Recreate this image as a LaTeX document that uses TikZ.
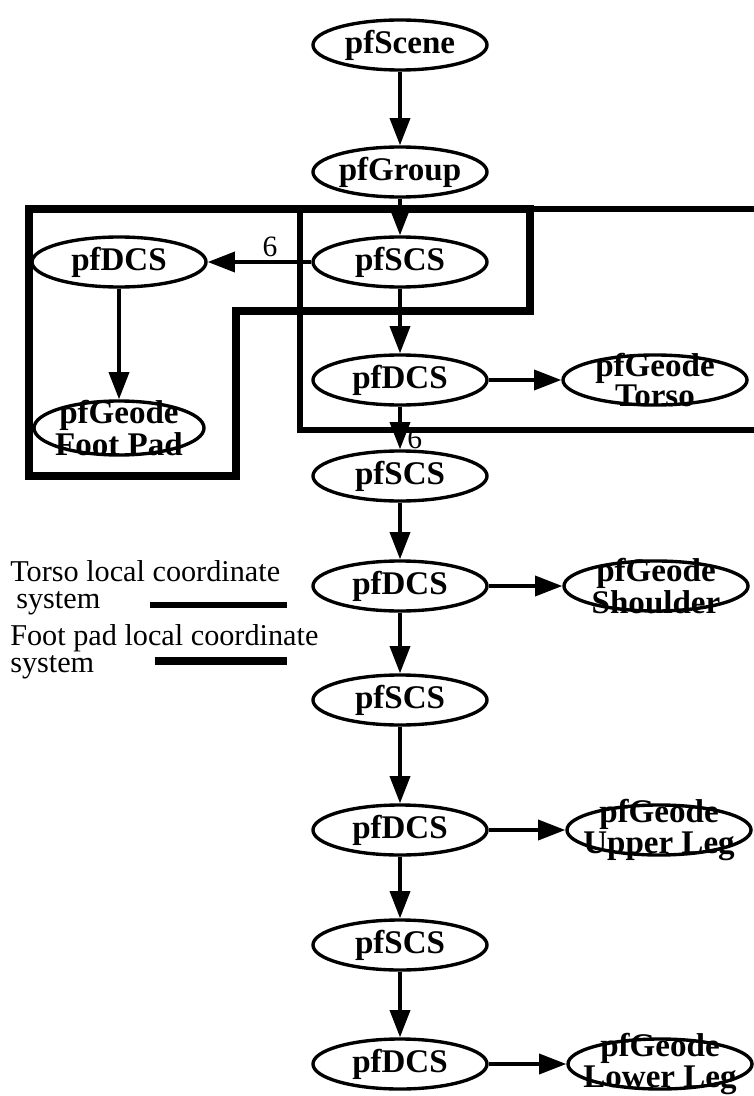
\documentclass[tikz,border=0pt]{standalone}
\usepackage{fontspec}
\setmainfont{Liberation Serif}
\usetikzlibrary{shapes.geometric, arrows.meta, positioning}
\tikzset{
    % Ellipse styles
    pfnode/.style={
        ellipse,
        draw=black,
        line width=2.4pt,
        minimum width=4.35cm,
        minimum height=1.25cm,
        inner sep=0pt,
        font=\bfseries\fontsize{23.5}{23.5}\selectfont
    },
    geode/.style={
        ellipse,
        draw=black,
        line width=2.4pt,
        minimum width=4.6cm,
        minimum height=1.25cm,
        inner sep=0pt
    },
    geotext/.style={
        align=center,
        inner sep=0pt,
        font=\bfseries\fontsize{23.5}{17}\selectfont
    },
    % Arrow styles
    arrow/.style={
        -{Triangle[length=0.68cm, width=0.5cm]},
        line width=2.6pt,
        draw=black
    },
    countlabel/.style={
        inner sep=0pt,
        font=\fontsize{21}{21}\selectfont
    },
    legendtext/.style={
        align=left,
        anchor=north west,
        inner sep=0pt,
        font=\fontsize{21.5}{19.5}\selectfont
    },
    % Coordinate system outlines
    torsoline/.style={
        line width=3.8pt,
        draw=black
    },
    footline/.style={
        line width=5.2pt,
        draw=black
    }
}

\begin{document}
\begin{tikzpicture}[x=0.025cm, y=-0.025cm]
    \fill[white] (0,0) rectangle (754,1096);
    \useasboundingbox (0,0) rectangle (754,1096);

    \node[pfnode] (scene) at (400,45) {pfScene};
    \node[pfnode] (group) at (400,172) {pfGroup};
    \node[pfnode] (scs1) at (400,262) {pfSCS};
    \node[pfnode] (dcsfoot) at (119,262) {pfDCS};
    \node[geode, minimum width=4.25cm, minimum height=1.35cm,
          label={[geotext]center:pfGeode\\Foot Pad}] (geofoot) at (119,428) {};
    \node[pfnode] (dcs1) at (400,380) {pfDCS};
    \node[geode, label={[geotext]center:pfGeode\\Torso}] (geotorso) at (655,380) {};
    \node[pfnode] (scs2) at (400,476) {pfSCS};
    \node[pfnode] (dcs2) at (400,586) {pfDCS};
    \node[geode, label={[geotext]center:pfGeode\\Shoulder}] (geoshoulder) at (656,586) {};
    \node[pfnode] (scs3) at (400,700) {pfSCS};
    \node[pfnode] (dcs3) at (400,830) {pfDCS};
    \node[geode, label={[geotext]center:pfGeode\\Upper Leg}] (geoupper) at (659,830) {};
    \node[pfnode] (scs4) at (400,945) {pfSCS};
    \node[pfnode] (dcs4) at (400,1064) {pfDCS};
    \node[geode, label={[geotext]center:pfGeode\\Lower Leg}] (geolower) at (660,1064) {};

    \node[countlabel] (six1) at (270,247) {6};
    \node[countlabel, anchor=west] (six2) at (407,439) {6};

    \draw[arrow] (scene) -- (group);
    \draw[arrow] (group) -- (scs1);
    \draw[arrow] (scs1) -- (dcsfoot);
    \draw[arrow] (dcsfoot) -- (geofoot);
    \draw[arrow] (scs1) -- (dcs1);
    \draw[arrow] (dcs1) -- (geotorso);
    \draw[arrow] (dcs1) -- (scs2);
    \draw[arrow] (scs2) -- (dcs2);
    \draw[arrow] (dcs2) -- (geoshoulder);
    \draw[arrow] (dcs2) -- (scs3);
    \draw[arrow] (scs3) -- (dcs3);
    \draw[arrow] (dcs3) -- (geoupper);
    \draw[arrow] (dcs3) -- (scs4);
    \draw[arrow] (scs4) -- (dcs4);
    \draw[arrow] (dcs4) -- (geolower);

    % torso local coordinate system
    \draw[torsoline] (300,209) -- (300,430) -- (770,430);
    \draw[torsoline] (530,209) -- (770,209);
    % foot pad local coordinate system
    \draw[footline] (530,209) -- (29,209) -- (29,476) -- (236,476) -- (236,311)
        -- (530,311) -- cycle;

    % legend
    \node[legendtext] (torsokey) at (10,560) {Torso local coordinate\\\hspace{0.2em}system};
    \node[legendtext] (footkey) at (10,624) {Foot pad local coordinate\\system};
    \coordinate (torsoA) at (150,605);
    \coordinate (torsoB) at (287,605);
    \coordinate (footA) at (155,661);
    \coordinate (footB) at (287,661);
    \draw[torsoline] (torsoA) -- (torsoB);
    \draw[footline] (footA) -- (footB);
\end{tikzpicture}
\end{document}
